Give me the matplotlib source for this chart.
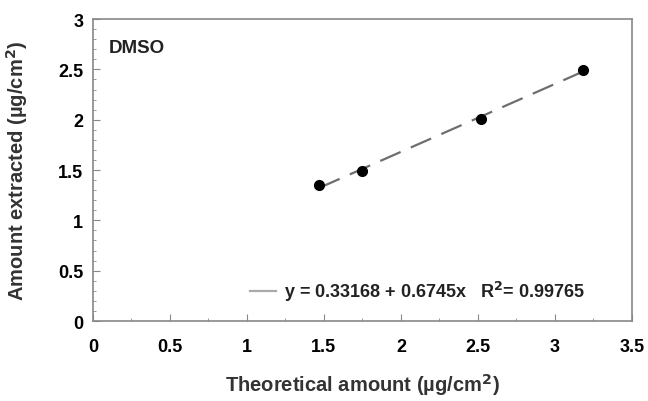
import matplotlib
matplotlib.use("Agg")
import matplotlib.pyplot as plt
import matplotlib.ticker as ticker
import numpy as np

plt.rcParams['font.family'] = ['Liberation Sans', 'DejaVu Sans']
plt.rcParams['font.weight'] = 'bold'

theoretical = [1.47, 1.75, 2.52, 3.18]
extracted = [1.35, 1.49, 2.01, 2.49]
intercept = 0.33168
slope = 0.6745
r2 = 0.99765

fig = plt.figure(figsize=(6.48, 4.02), dpi=100)
ax = fig.add_axes([0.1435, 0.199, 0.8315, 0.751])

xs = np.array([theoretical[0], theoretical[-1]])
ax.plot(xs, intercept + slope * xs, color='#6e6e6e', lw=1.6, dashes=(10, 5))
ax.plot(theoretical, extracted, 'o', color='black', ms=7)

ax.set_xlim(0, 3.5)
ax.set_ylim(0, 3)
ax.xaxis.set_major_locator(ticker.MultipleLocator(0.5))
ax.xaxis.set_minor_locator(ticker.MultipleLocator(0.25))
ax.yaxis.set_major_locator(ticker.MultipleLocator(0.5))
ax.yaxis.set_minor_locator(ticker.MultipleLocator(0.1))
ax.xaxis.set_major_formatter(ticker.FuncFormatter(lambda v, p: ('%g' % v)))
ax.yaxis.set_major_formatter(ticker.FuncFormatter(lambda v, p: ('%g' % v)))
ax.tick_params(which='both', direction='in', color='#888888')
ax.tick_params(which='major', length=5, labelsize=13, pad=7)
ax.tick_params(axis='x', which='major', pad=12)
ax.tick_params(which='minor', length=2.5)
for s in ax.spines.values():
    s.set_color('#888888')
    s.set_linewidth(1.2)

ax.set_xlabel('Theoretical amount (µg/cm$^\\mathbf{2}$)', fontsize=14.5, fontweight='bold', labelpad=12,
              color='#333333')
ax.set_ylabel('Amount extracted (µg/cm$^\\mathbf{2}$)', fontsize=14.5, fontweight='bold', labelpad=20,
              color='#333333')

ax.text(0.03, 0.89, 'DMSO', transform=ax.transAxes, fontsize=13.5, fontweight='bold', color='#222222')

ax.plot([1.02, 1.19], [0.3, 0.3], color='#aaaaaa', lw=1.6)
ax.text(1.24, 0.3, 'y = 0.33168 + 0.6745x   R$^\\mathbf{2}$= 0.99765', fontsize=13,
        fontweight='bold', va='center', color='#222222')

fig.savefig('out.png', dpi=100)
